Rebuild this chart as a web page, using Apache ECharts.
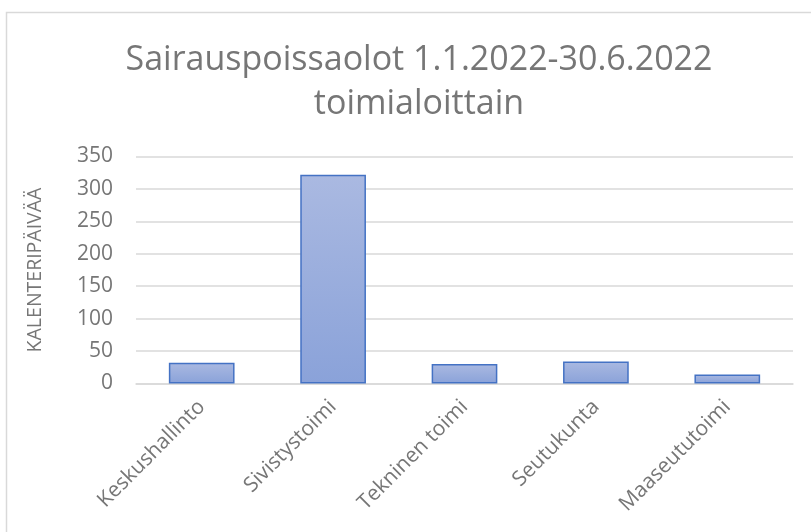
<!DOCTYPE html>
<html>
<head>
<meta charset="utf-8">
<script src="https://cdn.jsdelivr.net/npm/echarts@6/dist/echarts.min.js"></script>
<style>
  html, body { margin: 0; padding: 0; background: #fff; }
  #chart { width: 811px; height: 532px; }
</style>
</head>
<body>
<div id="chart"></div>
<script>
const categories = ['Keskushallinto', 'Sivistystoimi', 'Tekninen toimi', 'Seutukunta', 'Maaseututoimi'];
const values = [32, 322, 30, 34, 14];
const yTicks = [0, 50, 100, 150, 200, 250, 300, 350];

let chartDom = document.getElementById('chart');
let myChart = echarts.init(chartDom);
let option;

const font = '"Open Sans", "Noto Sans", sans-serif';

option = {
  backgroundColor: '#fff',
  animation: false,
  graphic: [
    {
      type: 'rect',
      shape: { x: 6.5, y: 12.5, width: 820, height: 540 },
      style: { fill: 'none', stroke: '#d9d9d9', lineWidth: 1.5 },
      silent: true
    }
  ],
  title: {
    text: 'Sairauspoissaolot 1.1.2022-30.6.2022\ntoimialoittain',
    left: 414,
    textAlign: 'center',
    top: 33,
    textStyle: {
      fontFamily: font,
      fontSize: 34,
      fontWeight: 'normal',
      color: '#767676',
      lineHeight: 44
    }
  },
  grid: {
    left: 136,
    right: 18,
    top: 156.5,
    bottom: 148.5
  },
  xAxis: {
    type: 'category',
    data: categories,
    axisLine: { show: true, lineStyle: { color: '#d9d9d9', width: 1.5 } },
    axisTick: { show: false },
    axisLabel: {
      rotate: 45,
      margin: 20,
      fontFamily: font,
      fontSize: 21,
      color: '#767676'
    }
  },
  yAxis: {
    type: 'value',
    min: 0,
    max: yTicks[yTicks.length - 1],
    interval: yTicks[1] - yTicks[0],
    name: 'KALENTERIPÄIVÄÄ',
    nameLocation: 'middle',
    nameGap: 91,
    nameTextStyle: {
      fontFamily: font,
      fontSize: 19.5,
      color: '#767676'
    },
    axisLine: { show: false },
    axisTick: { show: false },
    axisLabel: {
      margin: 23,
      fontFamily: font,
      fontSize: 21,
      color: '#767676'
    },
    splitLine: { lineStyle: { color: '#d9d9d9', width: 1.5 } }
  },
  series: [
    {
      type: 'bar',
      data: values,
      barWidth: '50%',
      itemStyle: {
        color: new echarts.graphic.LinearGradient(0, 0, 0, 1, [
          { offset: 0, color: '#aab9e1' },
          { offset: 1, color: '#8aa2d9' }
        ]),
        borderColor: '#4472c4',
        borderWidth: 1.5
      }
    }
  ]
};

option && myChart.setOption(option);
</script>
</body>
</html>
